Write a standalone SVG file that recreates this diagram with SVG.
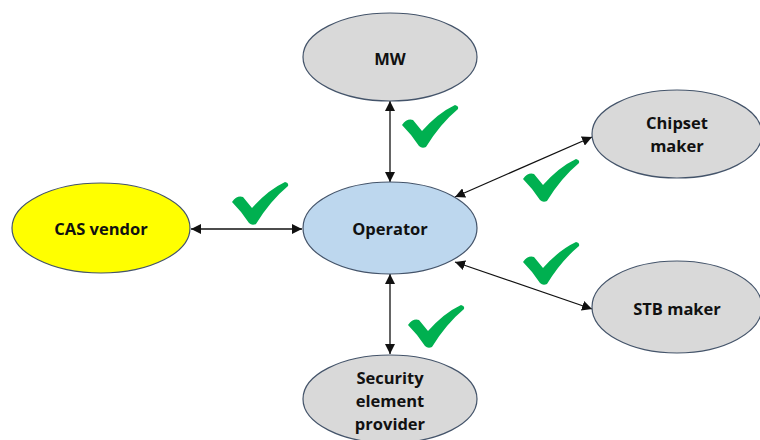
<svg xmlns="http://www.w3.org/2000/svg" xmlns:xlink="http://www.w3.org/1999/xlink" width="760" height="440" viewBox="0 0 760 440">
<style>
.node{stroke:#44546A;stroke-width:1.2}
.gray{fill:#D9D9D9}
.lbl{font-family:"Open Sans","DejaVu Sans",sans-serif;font-weight:bold;font-size:16.5px;fill:#111;text-anchor:middle;dominant-baseline:central}
.conn{stroke:#111;stroke-width:1.3;fill:none;marker-start:url(#ah);marker-end:url(#ah)}
.tick{fill:#00B050}
</style>
<defs>
<marker id="ah" viewBox="0 0 10 10" refX="10" refY="5" markerWidth="10" markerHeight="10" markerUnits="userSpaceOnUse" orient="auto-start-reverse">
<path d="M0,0 L10,5 L0,10 Z" fill="#111"/>
</marker>
<path id="tk" d="M0,20 Q5,13 11,15 L20,26 Q36,8 53,0 Q57,1 56,4 Q38,19 24,42 Q20,44 17,41 Q10,30 0,20 Z"/>
</defs>
<rect width="760" height="440" fill="#fff"/>
<g id="connectors">
<line class="conn" x1="390" y1="101" x2="390" y2="182"/>
<line class="conn" x1="191" y1="229" x2="302" y2="229"/>
<line class="conn" x1="455" y1="197" x2="592" y2="137"/>
<line class="conn" x1="455" y1="262" x2="592" y2="309"/>
<line class="conn" x1="390" y1="274" x2="390" y2="354"/>
</g>
<g id="checks" class="tick">
<use xlink:href="#tk" x="402" y="105"/>
<use xlink:href="#tk" x="232" y="182"/>
<use xlink:href="#tk" x="523" y="159"/>
<use xlink:href="#tk" x="523" y="242"/>
<use xlink:href="#tk" x="408" y="305"/>
</g>
<g id="mw">
<ellipse class="node gray" cx="390" cy="57" rx="87" ry="44"/>
<text class="lbl" x="390" y="58">MW</text>
</g>
<g id="cas">
<ellipse class="node" fill="#FFFF00" cx="101" cy="228" rx="89" ry="45"/>
<text class="lbl" x="101" y="228">CAS vendor</text>
</g>
<g id="operator">
<ellipse class="node" fill="#BDD7EE" cx="390" cy="228" rx="87" ry="46"/>
<text class="lbl" x="390" y="228">Operator</text>
</g>
<g id="chipset">
<ellipse class="node gray" cx="677" cy="134" rx="85" ry="44"/>
<text class="lbl" x="677" y="122">Chipset</text>
<text class="lbl" x="677" y="145">maker</text>
</g>
<g id="stb">
<ellipse class="node gray" cx="677" cy="307" rx="85" ry="46"/>
<text class="lbl" x="677" y="308">STB maker</text>
</g>
<g id="security">
<ellipse class="node gray" cx="390" cy="399" rx="87" ry="44"/>
<text class="lbl" x="390" y="377">Security</text>
<text class="lbl" x="390" y="400">element</text>
<text class="lbl" x="390" y="423">provider</text>
</g>
</svg>
